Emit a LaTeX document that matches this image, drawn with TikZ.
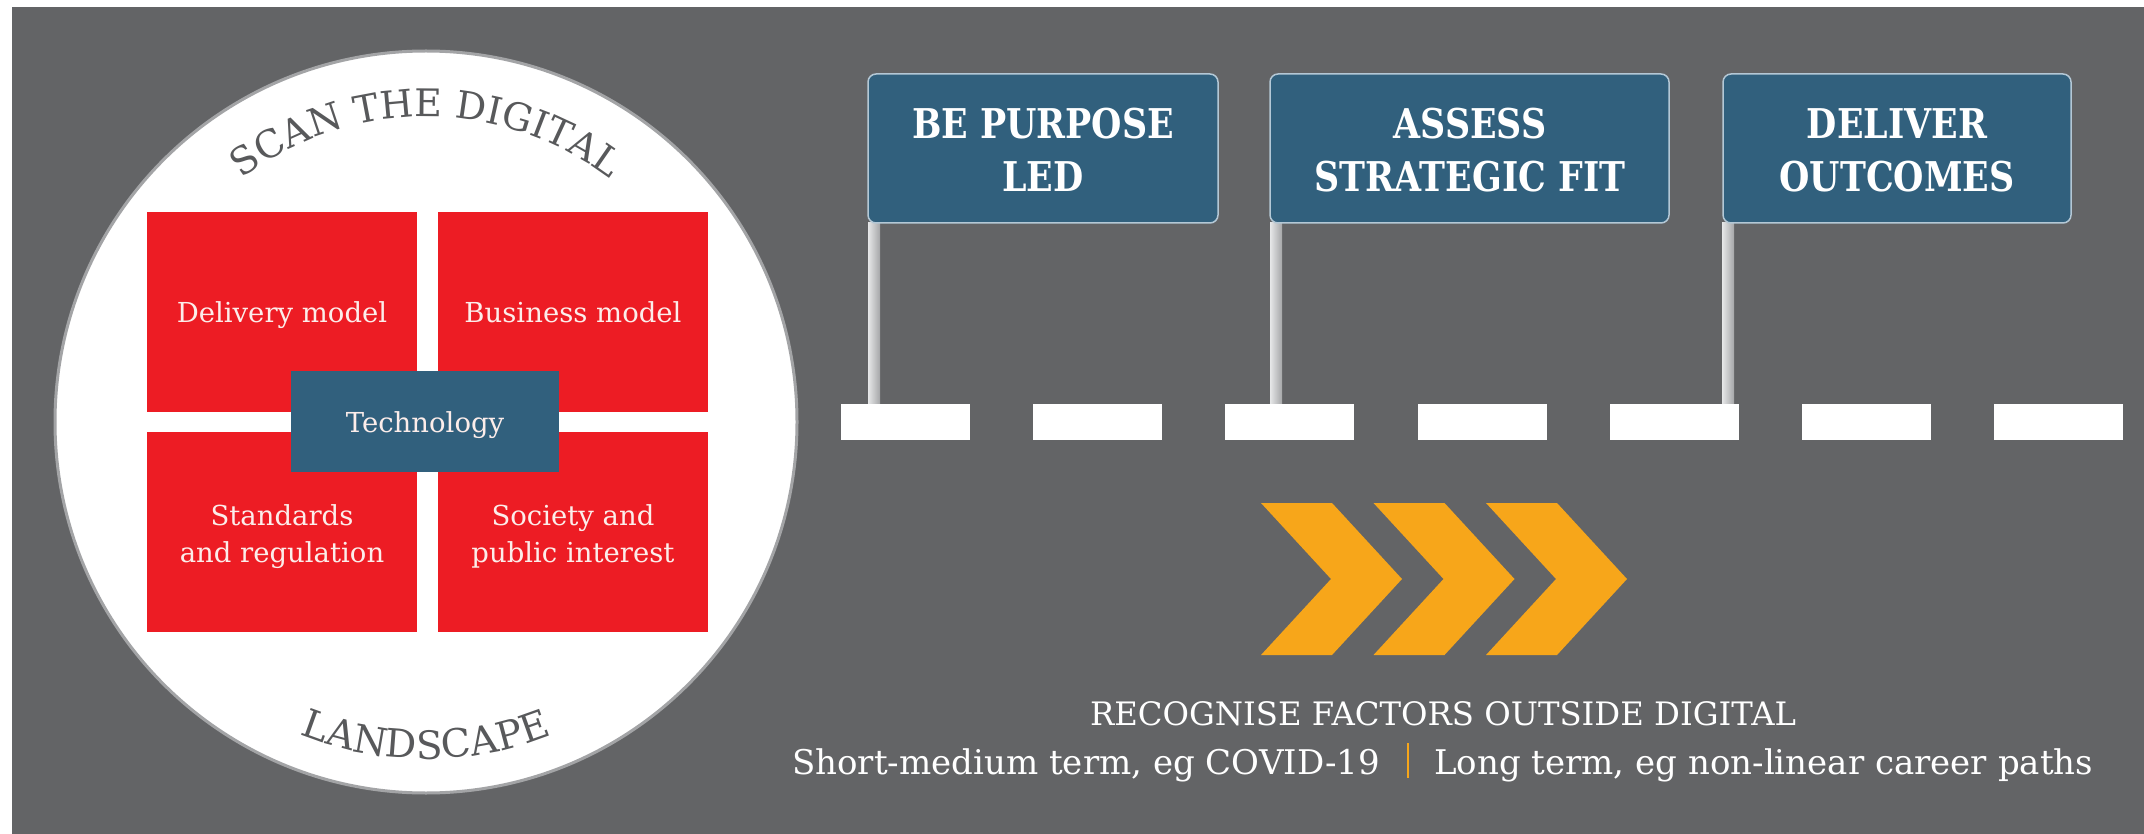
\documentclass[tikz,border=0pt]{standalone}
\usepackage{fontspec}
\setmainfont{DejaVu Serif}
\newfontfamily\signfont[FakeStretch=0.85]{DejaVu Serif}
\usetikzlibrary{decorations.text}
\definecolor{bggray}{HTML}{636466}
\definecolor{ringgray}{HTML}{A3A4A6}
\definecolor{arcgray}{HTML}{58595B}
\definecolor{boxred}{HTML}{ED1C24}
\definecolor{boxblue}{HTML}{31607D}
\definecolor{boxwhite}{HTML}{FCEDEA}
\definecolor{signedge}{HTML}{B4C8D6}
\definecolor{chevorange}{HTML}{F7A61A}
\definecolor{postlight}{HTML}{E6E7E8}
\definecolor{postdark}{HTML}{A5A6A8}
\newcommand\arcsizetop{\fontsize{38}{38}\selectfont}
\newcommand\arcsizebot{\fontsize{39}{39}\selectfont}
\tikzset{
  redbox/.style={fill=boxred, draw=none, inner sep=0, minimum width=270pt, minimum height=200pt},
  techbox/.style={fill=boxblue, draw=none, inner sep=0, minimum width=268pt, minimum height=101pt},
  boxtxt/.style={anchor=base, inner sep=0, text=boxwhite, font=\fontsize{27.5}{33}\selectfont},
  signbox/.style={fill=boxblue, draw=signedge, line width=1.5pt, rounded corners=8pt, inner sep=0, minimum height=149pt},
  signtxt/.style={anchor=base, inner sep=0, text=white, font=\signfont\bfseries\fontsize{41}{50}\selectfont},
  roaddash/.style={fill=white, draw=none, inner sep=0, minimum width=129pt, minimum height=36pt},
  signpost/.style={left color=postlight, right color=postdark},
  chev/.style={fill=chevorange},
  bottxt/.style={inner sep=0, text=white},
}
\begin{document}
\begin{tikzpicture}[x=1pt,y=-1pt]
\useasboundingbox (0,0) rectangle (2144,834);
\fill[white] (0,0) rectangle (2144,834);
\fill[bggray] (12,7) rectangle (2144,834);

% circle
\node[circle, fill=white, draw=ringgray, line width=3pt, minimum size=742pt, inner sep=0] (ring) at (426,422) {};
\path[decorate, decoration={text along path, text={|\arcsizetop|SCAN THE DIGITAL}, text color=arcgray, text align=center}]
  (426,422) ++(220:305) arc[start angle=220, end angle=320, radius=305];
\path[decorate, decoration={text along path, text={|\arcsizebot|LANDSCAPE}, text color=arcgray, text align=center}]
  (426,422) ++(130:337) arc[start angle=130, end angle=50, radius=337];

% red boxes
\node[redbox] (dm) at (282,312) {};
\node[redbox] (bm) at (573,312) {};
\node[redbox] (sr) at (282,532) {};
\node[redbox] (sp) at (573,532) {};
\node[techbox] (te) at (425,421.5) {};
\node[boxtxt] (dmt) at (282,323) {Delivery model};
\node[boxtxt] (bmt) at (573,323) {Business model};
\node[boxtxt] (tet) at (425,432) {Technology};
\node[boxtxt] (sr1) at (282,525) {Standards};
\node[boxtxt] (sr2) at (282,562) {and regulation};
\node[boxtxt] (sp1) at (573,525) {Society and};
\node[boxtxt] (sp2) at (573,562) {public interest};

% road dashes
\foreach \i in {1,...,7} {
  \node[roaddash] (d\i) at ({905.5+192.2*(\i-1)},422) {};
}

% posts
\coordinate (p1) at (868,223);
\coordinate (p2) at (1270,223);
\coordinate (p3) at (1722,223);
\fill[signpost] (p1) rectangle ([xshift=12pt]p1 |- d1.north);
\fill[signpost] (p2) rectangle ([xshift=12pt]p2 |- d3.north);
\fill[signpost] (p3) rectangle ([xshift=12pt]p3 |- d5.north);

% signs
\node[signbox, minimum width=350pt] (s1) at (1043,148.5) {};
\node[signbox, minimum width=399pt] (s2) at (1469.5,148.5) {};
\node[signbox, minimum width=348pt] (s3) at (1897,148.5) {};
\node[signtxt] (s1a) at (1043,139) {BE PURPOSE};
\node[signtxt] (s1b) at (1043,192) {LED};
\node[signtxt] (s2a) at (1470,139) {ASSESS};
\node[signtxt] (s2b) at (1470,192) {STRATEGIC FIT};
\node[signtxt] (s3a) at (1897,139) {DELIVER};
\node[signtxt] (s3b) at (1897,192) {OUTCOMES};

% chevrons
\foreach \i in {0,1,2} {
  \fill[chev] ({1261+112.5*\i},503) -- ++(71,0) -- ++(70,76) -- ++(-70,76) -- ++(-71,0) -- ++(70,-76) -- cycle;
}

% bottom text
\node[bottxt, anchor=base, font=\fontsize{32.3}{38}\selectfont] (rec) at (1443,725) {RECOGNISE FACTORS OUTSIDE DIGITAL};
\node[bottxt, anchor=base east, font=\fontsize{34}{40}\selectfont] (shortt) at (1380,774) {Short-medium term, eg COVID-19};
\node[bottxt, anchor=base west, font=\fontsize{34}{40}\selectfont] (longt) at (1434,774) {Long term, eg non-linear career paths};
\coordinate (bartop) at (1408,743);
\coordinate (barbot) at (1408,778);
\draw[chevorange, line width=2.5pt] (bartop) -- (barbot);
\end{tikzpicture}
\end{document}
